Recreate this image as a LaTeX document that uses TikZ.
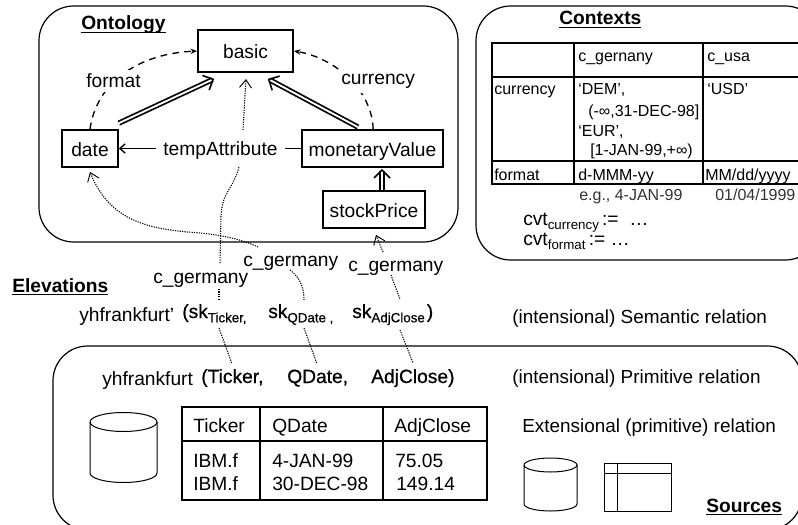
\documentclass[tikz,border=0pt]{standalone}
\usepackage{fontspec}
\setmainfont{Liberation Sans}
\newfontfamily\heavyish[RawFeature={embolden=0.6}]{Liberation Sans}
\usetikzlibrary{arrows.meta,calc}
\newcommand{\ulbl}[1]{\setbox0\hbox{\bfseries #1}\rlap{\rule[-2.4pt]{\wd0}{1.1pt}}\box0}
\newcommand{\sbs}[1]{\raisebox{-3.2pt}{\fontsize{10}{10}\selectfont #1}}
\tikzset{
  x=0.75pt,y=-0.75pt,
  main/.style={font=\fontsize{14.4}{14.4}\selectfont,inner sep=0pt,anchor=base west},
  side/.style={font=\fontsize{14.2}{14.2}\selectfont,inner sep=0pt,anchor=base west},
  small/.style={font=\fontsize{12}{12}\selectfont,inner sep=0pt,anchor=base west},
  panel/.style={draw,line width=0.9pt,rounded corners=26pt,inner sep=0pt},
  bx/.style={draw,line width=1.3pt,inner sep=0pt,font=\fontsize{14.4}{14.4}\selectfont,text height=12.5pt,text depth=0.5pt},
  dbl/.style={double,double distance=1.4pt,line width=1.3pt,-{Straight Barb[length=6pt,width=12pt,line width=1.2pt]}},
  dashc/.style={line width=1pt,dash pattern=on 5pt off 4pt,-{Stealth[length=5pt,width=4pt]}},
  dotc/.style={line width=0.8pt,dash pattern=on 0.9pt off 0.9pt},
  dota/.style={dotc,-{Straight Barb[length=6pt,width=9pt,line width=0.7pt]}},
  grid/.style={line width=1.3pt},
  cyl/.style={line width=0.75pt},
}
\begin{document}
\begin{tikzpicture}
\useasboundingbox (0,0) rectangle (798,524);
\fill[white] (0,0) rectangle (798,524);
% panels
\node[panel,minimum width=419*0.75pt,minimum height=236*0.75pt] (onto) at (248.5,124) {};
\node[panel,minimum width=344*0.75pt,minimum height=254*0.75pt] (ctx) at (648,133) {};
\node[panel,minimum width=749*0.75pt,minimum height=184*0.75pt] (src) at (427.5,438) {};
% ontology
\node[main] (tonto) at (81,30) {\ulbl{Ontology}};
\node[bx,minimum width=95*0.75pt,minimum height=42*0.75pt] (basic) at (245.5,51) {basic};
\node[bx,minimum width=56*0.75pt,minimum height=37*0.75pt] (date) at (90,148.5) {date};
\node[bx,minimum width=141*0.75pt,minimum height=37*0.75pt] (mv) at (372.5,148.5) {monetaryValue};
\node[bx,minimum width=102*0.75pt,minimum height=37*0.75pt] (sp) at (374,209.5) {stockPrice};
\draw[dashc] (date.north) .. controls (96,85) and (135,54) .. (basic.west);
\draw[dashc] ([xshift=0.5]mv.north) .. controls (372,90) and (335,58) .. (basic.east);
\node[main,fill=white,inner sep=3pt] (lfmt) at (82,88) {format};
\node[main,fill=white,inner sep=3pt] (lcur) at (337,85) {currency};
\draw[dbl] ([shift={(0,-6)}]date.north east) -- ([shift={(17,6)}]basic.south west);
\draw[dbl] ([shift={(-14.5,-2)}]mv.north) -- ([shift={(-26,6)}]basic.south east);
\draw[dbl] ([shift={(8,0)}]sp.north) -- ([shift={(9.5,1)}]mv.south);
\node[font=\fontsize{14.4}{14.4}\selectfont,inner xsep=7*0.75pt,inner ysep=0pt,text height=10pt,text depth=3pt] (ta) at (220.5,151) {tempAttribute};
\draw[line width=1pt] (mv.west) -- (mv.west -| ta.east);
\draw[line width=1pt,-{Straight Barb[length=4pt,width=7pt,line width=1pt]}] (ta.west |- date.east) -- (date.east);
% c_germany labels
\node[main] (cg1) at (153,283) {c\_germany};
\node[main] (cg2) at (243,266) {c\_germany};
\node[main] (cg3) at (348,271) {c\_germany};
\node[main] (telev) at (12,292) {\ulbl{Elevations}};
% relation lines
\node[main] (yh1) at (79,321) {yhfrankfurt'};
\node[main] (skt) at (182,318) {\heavyish(sk\sbs{Ticker,}};
\node[main] (skq) at (268,318) {\heavyish sk\sbs{QDate ,}};
\node[main] (ska) at (352,318) {\heavyish sk\sbs{AdjClose}\kern1.5pt)};
\node[main] (yh2) at (102,385) {yhfrankfurt};
\node[main] (at) at (201,383) {\heavyish(Ticker,};
\node[main] (aq) at (287,383) {\heavyish QDate,};
\node[main] (aa) at (371,383) {\heavyish AdjClose)};
\node[side] (rsem) at (512,323) {(intensional) Semantic relation};
\node[side] (rpri) at (512,383) {(intensional) Primitive relation};
\node[side] (rext) at (522,432) {Extensional (primitive) relation};
\node[main] (tsrc) at (706,512) {\ulbl{Sources}};
% dotted connectors
\coordinate (p1) at (243,130); \coordinate (p2) at (246,79);
\draw[dota] (p1) -- (p2);
\coordinate (q1) at (220,263); \coordinate (q2) at (239,167);
\draw[dotc] (q1) -- (221,215) .. controls (223,190) and (233,190) .. (q2);
\coordinate (r1) at (219,289); \coordinate (r2) at (219,300);
\draw[dotc] (r1) -- (r2);
\coordinate (s1) at (219,328); \coordinate (s2) at (232,364);
\draw[dotc] (s1) -- (s2);
\coordinate (t1) at (258,247); \coordinate (t2) at (90,172);
\draw[dota] (t1) .. controls (235,236) and (205,233) .. (187,232) .. controls (150,228) and (110,222) .. (t2);
\coordinate (u1) at (290,270); \coordinate (u2) at (304,300);
\draw[dotc] (u1) .. controls (298,276) and (304,285) .. (u2);
\coordinate (v1) at (304,328); \coordinate (v2) at (317,364);
\draw[dotc] (v1) -- (v2);
\coordinate (w1) at (383,252); \coordinate (w2) at (376,235);
\draw[dota] (w1) -- (w2);
\coordinate (x1) at (391,275); \coordinate (x2) at (400,299);
\draw[dotc] (x1) -- (x2);
\coordinate (y1) at (400,330); \coordinate (y2) at (413,363);
\draw[dotc] (y1) -- (y2);
% contexts
\node[main] (tctx) at (559,25) {\ulbl{Contexts}};
\draw[grid] (798,43) -- (492,43) -- (492,184) -- (798,184);
\draw[grid] (492,77) -- (798,77) (492,161) -- (798,161) (574,43) -- (574,184) (703,43) -- (703,184);
\node[small] (c1) at (578,62) {c\_gernany};
\node[small] (c2) at (707,62) {c\_usa};
\node[small] (c3) at (494,95) {currency};
\node[small] (c4) at (578,95) {‘DEM’,};
\node[small] (c5) at (588,117) {(-∞,31-DEC-98]};
\node[small] (c6) at (578,137) {‘EUR’,};
\node[small] (c7) at (590,155) {[1-JAN-99,+∞)};
\node[small] (c8) at (707,95) {‘USD’};
\node[small] (c9) at (494,180) {format};
\node[small] (c10) at (578,180) {d-MMM-yy};
\node[small] (c11) at (705,180) {MM/dd/yyyy};
\node[small,text=black!80] (c12) at (579,200) {e.g., 4-JAN-99};
\node[small,text=black!80] (c13) at (715,200) {01/04/1999};
\node[main] (cv1) at (523,225) {cvt\sbs{currency}\,:=\ \ …};
\node[main] (cv2) at (523,245) {cvt\sbs{format}\,:= …};
% sources table
\draw[grid] (182,407) rectangle (487,500);
\draw[grid] (182,441) -- (487,441) (260,407) -- (260,500) (383,407) -- (383,500);
\node[main] (h1) at (193,432) {Ticker};
\node[main] (h2) at (272,432) {QDate};
\node[main] (h3) at (394,432) {AdjClose};
\node[main] (d1) at (193,467) {IBM.f};
\node[main] (d2) at (272,467) {4-JAN-99};
\node[main] (d3) at (395,467) {75.05};
\node[main] (d4) at (193,490) {IBM.f};
\node[main] (d5) at (272,490) {30-DEC-98};
\node[main] (d6) at (396,490) {149.14};
% cylinders
\draw[cyl] (90,422) arc[start angle=180,end angle=540,x radius=33.5,y radius=9.5];
\draw[cyl] (90,422) -- (90,473) arc[start angle=180,end angle=0,x radius=33.5,y radius=9.5] -- (157,422);
\draw[cyl] (524,465) arc[start angle=180,end angle=540,x radius=26.5,y radius=7];
\draw[cyl] (524,465) -- (524,504) arc[start angle=180,end angle=0,x radius=26.5,y radius=7] -- (577,465);
\draw[cyl] (604,463) rectangle (671,511);
\draw[cyl] (604,473) -- (671,473) (617,463) -- (617,511);
\end{tikzpicture}
\end{document}
